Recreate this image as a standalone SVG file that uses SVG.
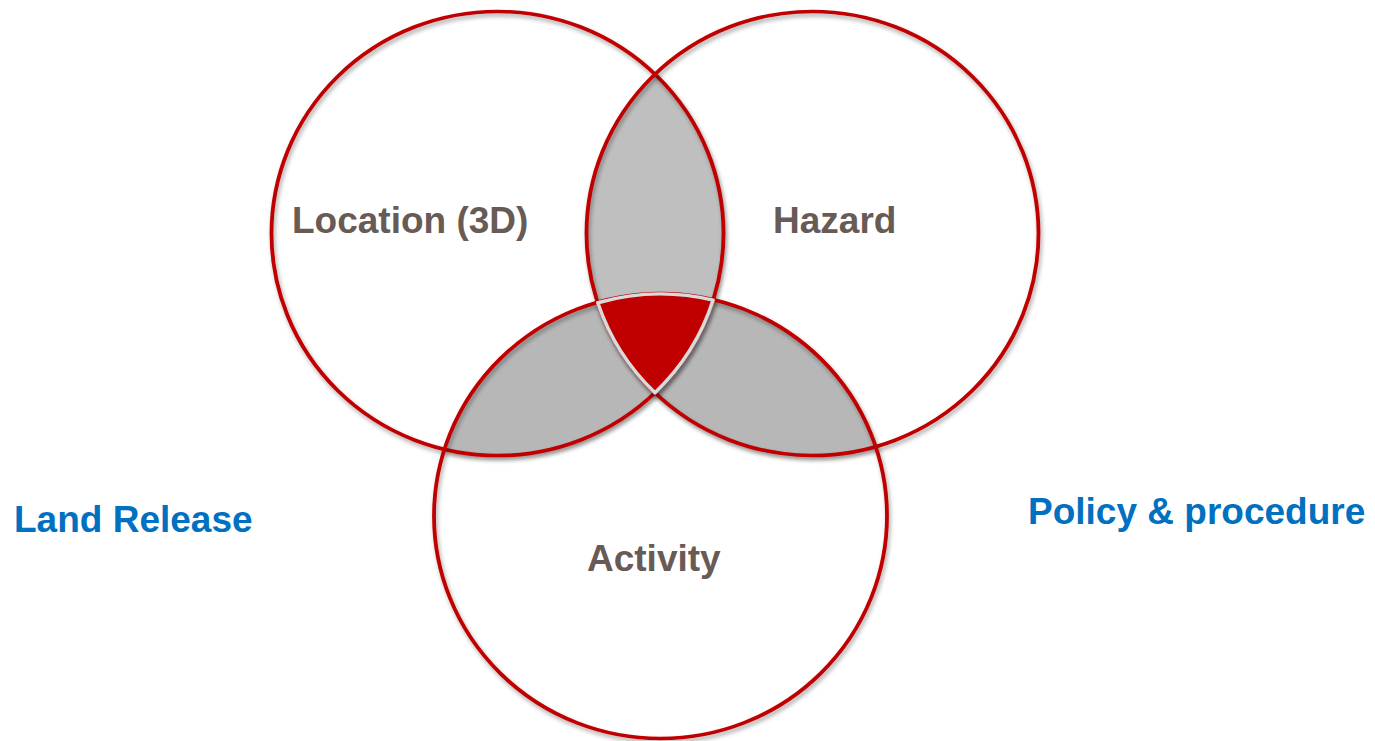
<svg xmlns="http://www.w3.org/2000/svg" width="1375" height="741" viewBox="0 0 1375 741">
<defs>
<filter id="sh" x="-10%" y="-10%" width="120%" height="120%">
<feDropShadow dx="1.5" dy="3" stdDeviation="2" flood-color="#000" flood-opacity="0.35"/>
</filter>
<style>
.ring{fill:none;stroke:#C00000;stroke-width:3.8}
.lens{fill:#BFBFBF}
.lens2{fill:#B7B7B7}
.core{fill:#C00000;stroke:#DADADA;stroke-width:3.5;stroke-linejoin:round}
.lbl{font-family:"Liberation Sans",Arial,sans-serif;font-weight:bold;font-size:37px;fill:#685A55}
.side{font-family:"Liberation Sans",Arial,sans-serif;font-weight:bold;font-size:37px;fill:#0070C0}
</style>
</defs>
<rect width="1375" height="741" fill="#FFFFFF"/>
<g transform="scale(1 0.9823)">
<g id="overlaps" filter="url(#sh)">
<path id="lens-location-hazard" class="lens" d="M655 75.6 A226 226 0 0 1 655 399.8 A226 226 0 0 1 655 75.6 Z"/>
<path id="lens-location-activity" class="lens2" d="M713.1 305.5 A226 226 0 0 0 444.9 457.5 A226 226 0 0 0 713.1 305.5 Z"/>
<path id="lens-hazard-activity" class="lens2" d="M597.8 308.2 A226 226 0 0 1 875.2 454.8 A226 226 0 0 1 597.8 308.2 Z"/>
</g>
<g id="node-location" filter="url(#sh)"><circle class="ring" cx="497.5" cy="237.7" r="226"/></g>
<g id="node-hazard" filter="url(#sh)"><circle class="ring" cx="812.5" cy="237.7" r="226"/></g>
<g id="node-activity" filter="url(#sh)"><circle class="ring" cx="660.5" cy="525.3" r="226.5"/></g>
<g id="node-core" filter="url(#sh)">
<path class="core" d="M597.8 308.2 A226 226 0 0 1 713.1 305.5 A226 226 0 0 1 655 399.8 A226 226 0 0 1 597.8 308.2 Z"/>
</g>
</g>
<g id="labels">
<text class="lbl" x="292" y="233">Location (3D)</text>
<text class="lbl" x="773" y="233">Hazard</text>
<text class="lbl" x="587" y="571">Activity</text>
</g>
<g id="side-labels">
<text class="side" x="14" y="532">Land Release</text>
<text class="side" x="1028" y="524">Policy &amp; procedure</text>
</g>
<g id="connectors"/>
</svg>
